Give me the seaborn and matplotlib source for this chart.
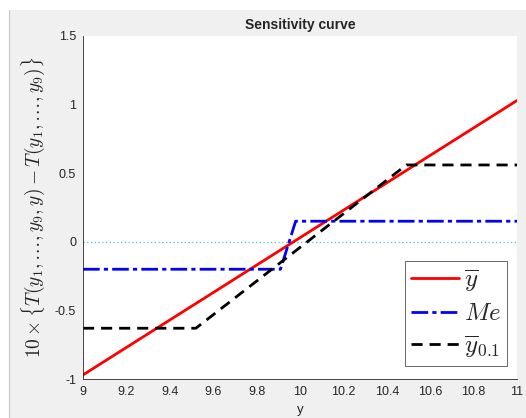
import matplotlib
matplotlib.use("Agg")
import matplotlib.pyplot as plt
import seaborn as sns
import pandas as pd
from matplotlib.patches import Rectangle
from matplotlib.lines import Line2D

# data
mean_x = [9.0, 11.0]
mean_y = [-0.97, 1.03]
med_x = [9.0, 9.91, 9.98, 11.0]
med_y = [-0.20, -0.20, 0.15, 0.15]
trim_x = [9.0, 9.52, 10.49, 11.0]
trim_y = [-0.63, -0.63, 0.56, 0.56]
labels = [r"$\overline{y}$", r"$Me$", r"$\overline{y}_{0.1}$"]
xticks = [9, 9.2, 9.4, 9.6, 9.8, 10, 10.2, 10.4, 10.6, 10.8, 11]
xticklabels = ["9", "9.2", "9.4", "9.6", "9.8", "10", "10.2", "10.4", "10.6", "10.8", "11"]
yticks = [-1, -0.5, 0, 0.5, 1, 1.5]
yticklabels = ["-1", "-0.5", "0", "0.5", "1", "1.5"]

sns.set_style("white")
plt.rcParams["font.family"] = ["Liberation Sans", "DejaVu Sans"]
plt.rcParams["mathtext.fontset"] = "cm"

W, H = 526, 418
fig = plt.figure(figsize=(W / 100, H / 100), dpi=100)
fig.patch.set_facecolor("white")
# MATLAB-like gray figure panel
fig.patches.append(Rectangle((9 / W, 0), 1 - 9 / W, 1 - 10 / H, transform=fig.transFigure,
                             facecolor="#f0f0f0", edgecolor="none", zorder=-10))
fig.lines.append(Line2D([9 / W, 9 / W], [0, 1 - 10 / H], transform=fig.transFigure,
                        color="#c8c8c8", lw=0.8, zorder=-9))

left, right, top, bottom = 83, 517, 36, 379
ax = fig.add_axes([left / W, 1 - bottom / H, (right - left) / W, (bottom - top) / H])
ax.set_facecolor("white")

df1 = pd.DataFrame({"x": mean_x, "y": mean_y})
df2 = pd.DataFrame({"x": med_x, "y": med_y})
df3 = pd.DataFrame({"x": trim_x, "y": trim_y})

ax.axhline(0, color="#4DBEEE", lw=0.9, ls=(0, (1, 2)), zorder=1)
sns.lineplot(data=df1, x="x", y="y", ax=ax, color="#ff0000", lw=2, label=labels[0],
             sort=False, estimator=None)
sns.lineplot(data=df2, x="x", y="y", ax=ax, color="#0000ff", lw=2, label=labels[1],
             sort=False, estimator=None, linestyle=(0, (6, 1.5, 1.5, 1.5)))
sns.lineplot(data=df3, x="x", y="y", ax=ax, color="#000000", lw=2, label=labels[2],
             sort=False, estimator=None, linestyle=(0, (4, 2.5)))

ax.set_xlim(9, 11)
ax.set_ylim(-1, 1.5)
ax.set_xticks(xticks)
ax.set_xticklabels(xticklabels)
ax.set_yticks(yticks)
ax.set_yticklabels(yticklabels)
ax.tick_params(direction="in", length=3, width=0.6, colors="#262626", labelsize=9,
               labelcolor="#262626", pad=5)
for s in ["top", "right"]:
    ax.spines[s].set_visible(False)
for s in ["left", "bottom"]:
    ax.spines[s].set_color("#262626")
    ax.spines[s].set_linewidth(0.6)

ax.set_title("Sensitivity curve", fontsize=10, fontweight="bold", pad=5)
ax.set_xlabel("y", fontsize=9.5, labelpad=4)
ax.set_ylabel(r"$10\times\{T(y_1,\ldots,y_9,y)-T(y_1,\ldots,y_9)\}$", fontsize=14,
              color="#262626")
ax.yaxis.set_label_coords(-0.083, 0.5)

leg = ax.legend(loc="lower right", fontsize=18, frameon=True, fancybox=False,
                edgecolor="#262626", handlelength=1.9, handletextpad=0.2,
                borderpad=0.25, labelspacing=0.3, borderaxespad=0,
                bbox_to_anchor=(0.977, 0.038))
leg.get_frame().set_linewidth(0.6)

fig.savefig("out.png", dpi=100, facecolor=fig.get_facecolor())
